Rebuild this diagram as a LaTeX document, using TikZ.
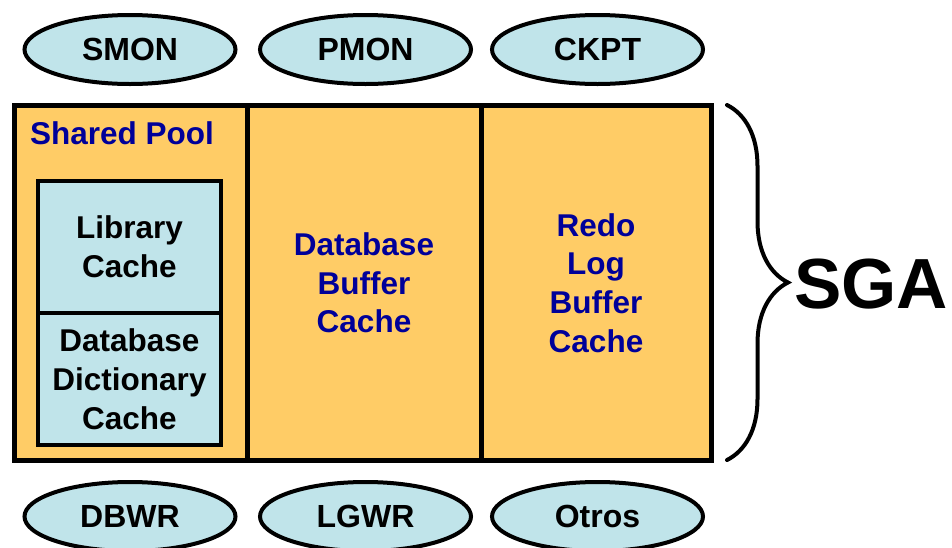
\documentclass[tikz,border=0pt]{standalone}
\usepackage{fontspec}
\setmainfont{Liberation Sans}
\usetikzlibrary{positioning,shapes.geometric,decorations.pathreplacing}
\definecolor{poolorange}{RGB}{255,204,102}
\definecolor{cacheblue}{RGB}{192,228,234}
\definecolor{labelblue}{RGB}{0,0,153}
\tikzset{
	proc/.style={
			ellipse, draw, line width=4pt, fill=cacheblue,
			minimum width=211pt, minimum height=69pt, inner sep=0pt,
			font=\fontsize{32}{36}\selectfont\bfseries
		},
	area/.style={
			rectangle, draw, line width=5pt, fill=poolorange,
			minimum width=233pt, minimum height=355pt, inner sep=0pt, outer sep=0pt,
			align=center, text=labelblue, font=\fontsize{31.5}{38.7}\selectfont\bfseries
		},
	cache/.style={
			rectangle, draw, line width=4pt, fill=cacheblue,
			minimum width=183pt, minimum height=132pt, inner sep=0pt, outer sep=0pt,
			align=center, font=\fontsize{31.5}{39}\selectfont\bfseries
		}
}

\begin{document}
\begin{tikzpicture}[x=1pt,y=-1pt]
    \useasboundingbox (0,0) rectangle (952,547);

    % Memory areas of the SGA
    \node[area, anchor=north west] (pool) at (14,105.5) {};
    \node[area, minimum width=234pt, right=0pt of pool] (dbbuf) {Database\\Buffer\\Cache};
    \node[area, minimum width=230pt, right=0pt of dbbuf] (redo) {Redo\\Log\\Buffer\\Cache};
    \node[text=labelblue, font=\fontsize{31.5}{36}\selectfont\bfseries] (pooltitle) at (122,133) {Shared Pool};

    % Caches inside the shared pool
    \node[cache] (libcache) at (129.5,247) {Library\\Cache};
    \node[cache, below=0pt of libcache] (dictcache) {Database\\Dictionary\\Cache};

    % Background processes
    \foreach \name/\x in {SMON/130,PMON/365.5,CKPT/597.5} {
      \node[proc] (\name) at (\x,49.5) {\name};
    }
    \foreach \name/\x in {DBWR/130,LGWR/365.5,Otros/597.5} {
      \node[proc] (\name) at (\x,516.5) {\name};
    }

    % Brace and label
    \coordinate (bracetop) at (727,105);
    \coordinate (bracebot) at (727,460);
    \draw[decorate, decoration={brace, amplitude=61pt}, line width=4pt, line cap=round] (bracetop) -- (bracebot);
    \node[anchor=west, inner sep=0pt, font=\fontsize{71}{72}\selectfont\bfseries] (sga) at (794,284) {SGA};
  \end{tikzpicture}
\end{document}
